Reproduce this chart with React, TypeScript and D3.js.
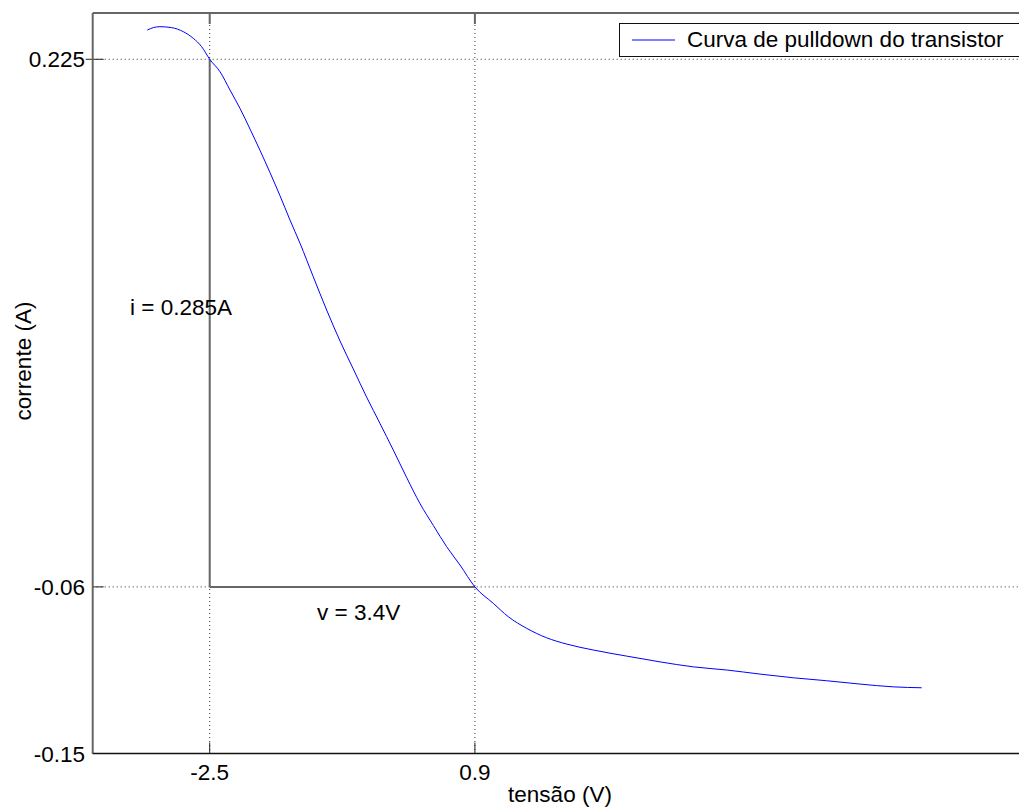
import React from "react";
import * as d3 from "d3";

const voltage = [
  -3.3, -3.223, -3.137, -2.987, -2.838, -2.71, -2.603, -2.5, -2.368, -2.24,
  -2.112, -1.983, -1.855, -1.727, -1.599, -1.471, -1.342, -1.172, -1.0, -0.829,
  -0.659, -0.487, -0.317, -0.146, 0.026, 0.196, 0.367, 0.538, 0.709, 0.9,
  1.136, 1.328, 1.564, 1.821, 2.077, 2.418, 2.846, 3.273, 3.7, 4.128,
  4.555, 4.982, 5.41, 5.837, 6.264, 6.628,
];
const current = [
  0.2408, 0.2421, 0.2426, 0.2421, 0.2399, 0.2363, 0.2318, 0.225, 0.2183, 0.2084,
  0.1985, 0.1873, 0.1758, 0.1638, 0.1513, 0.1382, 0.1256, 0.1075, 0.0895, 0.0728,
  0.0577, 0.0424, 0.0283, 0.0139, -0.001, -0.015, -0.0268, -0.0383, -0.0482, -0.06,
  -0.0689, -0.0761, -0.0824, -0.0875, -0.0909, -0.0941, -0.0974, -0.1005, -0.1032, -0.1049,
  -0.1071, -0.1091, -0.1107, -0.1125, -0.114, -0.1145,
];
const xTicks = [-2.5, 0.9];
const yTicks = [0.225, -0.06, -0.15];
const xTickLabels = ["-2.5", "0.9"];
const yTickLabels = ["0.225", "-0.06", "-0.15"];
const marker = { v: 0.9, i: -0.06, vStart: -2.5, iTop: 0.225 };
const seriesName = "Curva de pulldown do transistor";

export default function App() {
  const W = 1019;
  const H = 807;
  const left = 92.7;
  const top = 13;
  const bottom = 753.5;
  const pxPerUnit = 78;
  const xDomain: [number, number] = [-4, 8];
  const right = left + (xDomain[1] - xDomain[0]) * pxPerUnit;
  const x = d3.scaleLinear().domain(xDomain).range([left, right]);
  const y = d3.scaleLinear().domain([-0.15, 0.25]).range([bottom, top]);
  const pts: [number, number][] = voltage.map((v, k) => [v, current[k]]);
  const line = d3
    .line<[number, number]>()
    .x((d) => x(d[0]))
    .y((d) => y(d[1]))
    .curve(d3.curveMonotoneX);
  const font = "'Liberation Sans', Arial, sans-serif";
  const fs = 22.5;
  const axisCol = "#666";
  const tickLen = 11;

  return (
    <svg
      width={W}
      height={H}
      style={{ position: "absolute", left: 0, top: 0, background: "#fff" }}
      fontFamily={font}
    >
      <rect x={0} y={0} width={W} height={H} fill="#fff" />
      {/* grid */}
      {xTicks.map((t) => (
        <line
          key={"gx" + t}
          x1={x(t)}
          x2={x(t)}
          y1={top}
          y2={bottom}
          stroke="#333"
          strokeWidth={1}
          strokeDasharray="1 3"
        />
      ))}
      {yTicks.slice(0, 2).map((t) => (
        <line
          key={"gy" + t}
          x1={left}
          x2={right}
          y1={y(t)}
          y2={y(t)}
          stroke="#333"
          strokeWidth={1}
          strokeDasharray="1 3"
        />
      ))}
      {/* annotation lines */}
      <line
        x1={x(marker.vStart)}
        x2={x(marker.vStart)}
        y1={y(marker.iTop)}
        y2={y(marker.i)}
        stroke={axisCol}
        strokeWidth={2}
      />
      <line
        x1={x(marker.vStart)}
        x2={x(marker.v)}
        y1={y(marker.i)}
        y2={y(marker.i)}
        stroke={axisCol}
        strokeWidth={2}
      />
      {/* ticks */}
      {xTicks.map((t) => (
        <g key={"tx" + t}>
          <line x1={x(t)} x2={x(t)} y1={bottom} y2={bottom - tickLen} stroke="#222" strokeWidth={1} />
          <line x1={x(t)} x2={x(t)} y1={top} y2={top + tickLen} stroke={axisCol} strokeWidth={2} />
        </g>
      ))}
      {yTicks.map((t) => (
        <line key={"ty" + t} x1={left} x2={left + tickLen} y1={y(t)} y2={y(t)} stroke="#222" strokeWidth={1} />
      ))}
      <line x1={left - 7} x2={left} y1={y(yTicks[0])} y2={y(yTicks[0])} stroke="#222" strokeWidth={1} />
      {/* axes box */}
      <line x1={left} x2={right} y1={top} y2={top} stroke={axisCol} strokeWidth={2} />
      <line x1={left} x2={left} y1={top} y2={bottom} stroke={axisCol} strokeWidth={2} />
      <line x1={left} x2={right} y1={bottom} y2={bottom} stroke="#111" strokeWidth={1.5} />
      {/* curve */}
      <path d={line(pts) || ""} fill="none" stroke="#0000ff" strokeWidth={1} />
      {/* tick labels */}
      {yTicks.map((t, k) => (
        <text key={"ly" + t} x={85} y={y(t) + 8} fontSize={fs} textAnchor="end" fill="#000">
          {yTickLabels[k]}
        </text>
      ))}
      {xTicks.map((t, k) => (
        <text key={"lx" + t} x={x(t)} y={780} fontSize={fs} textAnchor="middle" fill="#000">
          {xTickLabels[k]}
        </text>
      ))}
      {/* annotations */}
      <text x={130} y={315} fontSize={fs} fill="#000">i = 0.285A</text>
      <text x={317} y={620} fontSize={fs} fill="#000">v = 3.4V</text>
      {/* axis labels */}
      <text x={560} y={802} fontSize={fs} textAnchor="middle" fill="#000">tensão (V)</text>
      <text
        transform="translate(31,361) rotate(-90)"
        fontSize={fs}
        textAnchor="middle"
        fill="#000"
      >
        corrente (A)
      </text>
      {/* legend */}
      <rect x={619.5} y={23.5} width={440} height={33} fill="#fff" stroke="#111" strokeWidth={1} />
      <line x1={632} x2={675} y1={40} y2={40} stroke="#0000ff" strokeWidth={1} />
      <text x={687} y={47} fontSize={fs} fill="#000">{seriesName}</text>
    </svg>
  );
}
